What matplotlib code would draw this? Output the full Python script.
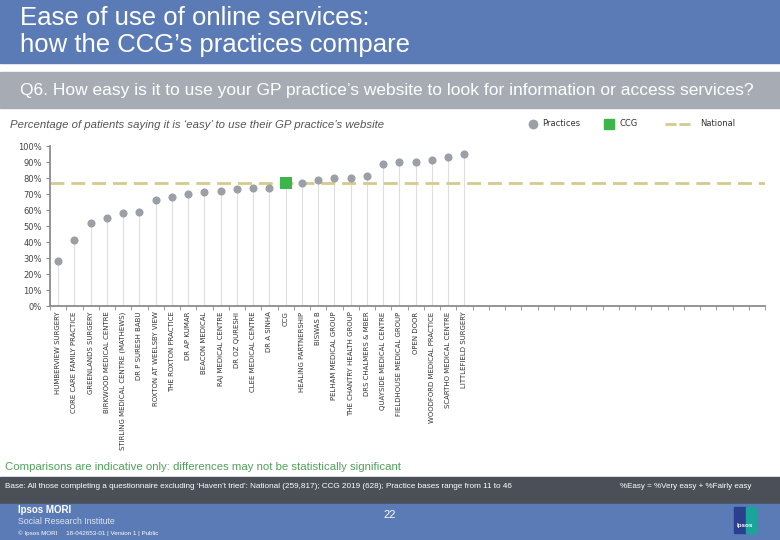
import numpy as np
import matplotlib
matplotlib.use('Agg')
import matplotlib.pyplot as plt
from matplotlib.patches import Rectangle

# practices in chart order (CCG sits among them)
practices = ['HUMBERVIEW SURGERY', 'CORE CARE FAMILY PRACTICE', 'GREENLANDS SURGERY',
             'BIRKWOOD MEDICAL CENTRE', 'STIRLING MEDICAL CENTRE (MATHEWS)', 'DR P SURESH BABU',
             'ROXTON AT WEELSBY VIEW', 'THE ROXTON PRACTICE', 'DR AP KUMAR', 'BEACON MEDICAL',
             'RAJ MEDICAL CENTRE', 'DR OZ QURESHI', 'CLEE MEDICAL CENTRE', 'DR A SINHA', 'CCG',
             'HEALING PARTNERSHIP', 'BISWAS B', 'PELHAM MEDICAL GROUP', 'THE CHANTRY HEALTH GROUP',
             'DRS CHALMERS & MBER', 'QUAYSIDE MEDICAL CENTRE', 'FIELDHOUSE MEDICAL GROUP',
             'OPEN DOOR', 'WOODFORD MEDICAL PRACTICE', 'SCARTHO MEDICAL CENTRE', 'LITTLEFIELD SURGERY']
easy_pct = [28, 41, 52, 55, 58, 59, 66, 68, 70, 71, 72, 73, 74, 74, 77,
            77, 79, 80, 80, 81, 89, 90, 90, 91, 93, 95]
national_pct = 77
n_slots = 44  # axis has room for more practices than this CCG has
yticks = [0, 10, 20, 30, 40, 50, 60, 70, 80, 90, 100]

BLUE = '#5a7bb5'
GREY_BAND = '#a7acb4'
DARK_BAND = '#4b5058'
GREEN = '#3cb54a'
DOT = '#9b9fa6'
NAT = '#d5ca8c'

fig = plt.figure(figsize=(7.8, 5.4), dpi=100)

# background layer in pixel coords
bg = fig.add_axes([0, 0, 1, 1])
bg.set_xlim(0, 780)
bg.set_ylim(540, 0)
bg.axis('off')
bg.add_patch(Rectangle((0, 0), 780, 63, color=BLUE))
bg.add_patch(Rectangle((0, 72), 780, 36, color=GREY_BAND))
bg.add_patch(Rectangle((0, 477), 780, 27, color=DARK_BAND))
bg.add_patch(Rectangle((0, 504), 780, 36, color=BLUE))

sans = 'Liberation Sans'
bg.text(20, 18, 'Ease of use of online services:', color='white', fontsize=18.5, family=sans, va='center')
bg.text(20, 45, 'how the CCG\u2019s practices compare', color='white', fontsize=18.5, family=sans, va='center')
bg.text(20, 91, 'Q6. How easy is it to use your GP practice\u2019s website to look for information or access services?',
        color='white', fontsize=12.5, family=sans, va='center')
bg.text(10, 125, 'Percentage of patients saying it is \u2018easy\u2019 to use their GP practice\u2019s website',
        color='#555555', fontsize=8.2, style='italic', family=sans, va='center')
bg.text(5, 467, 'Comparisons are indicative only: differences may not be statistically significant',
        color='#4fa05a', fontsize=8.2, family=sans, va='center')
bg.text(5, 487, 'Base: All those completing a questionnaire excluding \u2018Haven\u2019t tried\u2019: National (259,817); '
        'CCG 2019 (628); Practice bases range from 11 to 46',
        color='white', fontsize=5.85, family=sans, va='center')
bg.text(620, 487, '%Easy = %Very easy + %Fairly easy', color='white', fontsize=5.8, family=sans, va='center')
bg.text(18, 510, 'Ipsos MORI', color='white', fontsize=7, family=sans, va='center', weight='bold')
bg.text(18, 521, 'Social Research Institute', color='#dde4f0', fontsize=6.3, family=sans, va='center')
bg.text(18, 533, '\u00a9 Ipsos MORI     18-042653-01 | Version 1 | Public', color='white',
        fontsize=4.5, family=sans, va='center')
bg.text(390, 515, '22', color='white', fontsize=8, family=sans, va='center', ha='center')
# Ipsos logo block
bg.add_patch(Rectangle((734, 507), 12, 26, color='#2b3f8f'))
bg.add_patch(Rectangle((746, 507), 10, 26, color='#1aa59a'))
bg.text(745, 526, 'Ipsos', color='white', fontsize=4.5, family=sans, weight='bold', ha='center', va='center')

# legend, drawn by hand to match the slide spacing
bg.scatter([533], [124], s=50, color=DOT, linewidths=0)
bg.text(542, 124, 'Practices', fontsize=6, color='#333333', va='center')
bg.add_patch(Rectangle((604, 119), 10, 10, color=GREEN))
bg.text(620, 124, 'CCG', fontsize=6, color='#333333', va='center')
bg.plot([665, 690], [124, 124], color=NAT, lw=2, ls=(0, (4, 1)))
bg.text(700, 124, 'National', fontsize=6, color='#333333', va='center')

# main chart
ax = fig.add_axes([50 / 780, (540 - 306) / 540, 715 / 780, 160 / 540])
ax.patch.set_alpha(0)
x = np.arange(len(practices))
is_ccg = np.array([p == 'CCG' for p in practices])
vals = np.array(easy_pct)

ax.vlines(x, 0, vals, color='#dedede', lw=0.8, zorder=1)
ax.axhline(national_pct, color=NAT, lw=2, ls=(0, (5, 2.5)), zorder=2)
ax.scatter(x[~is_ccg], vals[~is_ccg], s=34, color=DOT, zorder=3, linewidths=0)
ax.scatter(x[is_ccg], vals[is_ccg], s=70, marker='s', color=GREEN, zorder=4, linewidths=0)

ax.set_xlim(-0.5, n_slots - 0.5)
ax.set_ylim(0, 100)
for s in ['top', 'right']:
    ax.spines[s].set_visible(False)
for s in ['left', 'bottom']:
    ax.spines[s].set_color('#8c8c8c')
    ax.spines[s].set_linewidth(1.3)

ax.set_yticks(yticks)
ax.set_yticklabels([f'{v}%' for v in yticks], fontsize=6, color='#444444')
ax.tick_params(axis='y', length=3, color='#8c8c8c', pad=3)

labels = practices + [''] * (n_slots - len(practices))
ax.set_xticks(np.arange(n_slots))
ax.set_xticklabels(labels, rotation=90, fontsize=5, color='#333333', va='top', ha='center')
ax.set_xticks(np.arange(n_slots + 1) - 0.5, minor=True)
ax.tick_params(axis='x', which='major', length=0, pad=4)
ax.tick_params(axis='x', which='minor', length=3, color='#8c8c8c')

fig.savefig('out.png', dpi=100)
